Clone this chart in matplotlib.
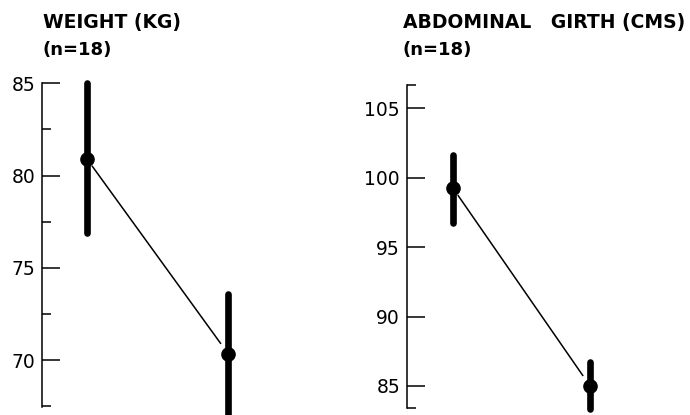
import matplotlib
matplotlib.use("Agg")
import matplotlib.pyplot as plt
import numpy as np

# ---- data ----
weight_titles = ["WEIGHT (KG)", "(n=18)"]
girth_titles = ["ABDOMINAL   GIRTH (CMS)", "(n=18)"]
positions = [1, 2]
weight_mean = [80.9, 70.35]
weight_err_low = [4.0, 3.5]
weight_err_high = [4.1, 3.25]
girth_mean = [99.25, 85.0]
girth_err_low = [2.5, 1.7]
girth_err_high = [2.4, 1.7]
weight_major = [70, 75, 80, 85]
weight_minor = [67.5, 72.5, 77.5, 82.5]
girth_major = [85, 90, 95, 100, 105]
girth_minor = [83.4, 106.7]

W, H = 690, 415
fig = plt.figure(figsize=(W / 100, H / 100), dpi=100)


def make_axes(spine_px, right_px, top_px, p1_px, px_per_unit, ylim):
    ax = fig.add_axes([spine_px / W, 0, (right_px - spine_px) / W, 1 - top_px / H])
    off = p1_px - spine_px
    ax.set_xlim(1 - off / px_per_unit, 1 + (right_px - p1_px) / px_per_unit)
    ax.set_ylim(*ylim)
    return ax


def draw_panel(ax, means, lo, hi, major, minor, bounds):
    x = np.array(positions, dtype=float)
    m = np.array(means)
    t0, t1 = 0.035, 0.95
    ax.plot([x[0] + t0 * (x[1] - x[0]), x[0] + t1 * (x[1] - x[0])],
            [m[0] + t0 * (m[1] - m[0]), m[0] + t1 * (m[1] - m[0])],
            color="black", lw=1.1, solid_capstyle="butt")
    vl = ax.vlines(x, m - np.array(lo), m + np.array(hi), color="black", lw=4.8)
    vl.set_capstyle("round")
    ax.plot(x, m, "o", color="black", markersize=9.5)
    for s in ["top", "right", "bottom"]:
        ax.spines[s].set_visible(False)
    ax.spines["left"].set_linewidth(1.1)
    ax.spines["left"].set_bounds(*bounds)
    ax.set_xticks([])
    ax.set_yticks(major)
    ax.set_yticks(minor, minor=True)
    ax.yaxis.set_minor_formatter(plt.NullFormatter())
    ax.tick_params(axis="y", which="major", direction="in", length=12.8,
                   width=1.1, pad=5, labelsize=13.5)
    ax.tick_params(axis="y", which="minor", direction="in", length=6.5, width=1.1)
    ax.patch.set_visible(False)


# left panel: 85 at y=83.3px, 18.45 px per unit; points at x=87 and 228 px
def wy(px):
    return 85 - (px - 83.3) / 18.45

axL = make_axes(42, 280, 70, 87, 141, (wy(415), wy(70)))
draw_panel(axL, weight_mean, weight_err_low, weight_err_high,
           weight_major, weight_minor, (67.45, 85))

# right panel: 105 at y=108.3px, 13.88 px per unit; points at x=453 and 590 px
def gy(px):
    return 105 - (px - 108.3) / 13.88

axR = make_axes(407, 660, 70, 453, 137, (gy(415), gy(70)))
draw_panel(axR, girth_mean, girth_err_low, girth_err_high,
           girth_major, girth_minor, (83.4, 106.7))

for xpx, titles in [(43, weight_titles), (403, girth_titles)]:
    fig.text(xpx / W, 1 - 28 / H, titles[0], fontsize=13.5, fontweight="bold",
             ha="left", va="baseline")
    fig.text(xpx / W, 1 - 55 / H, titles[1], fontsize=13, fontweight="bold",
             ha="left", va="baseline")

fig.savefig("out.png", dpi=100)
